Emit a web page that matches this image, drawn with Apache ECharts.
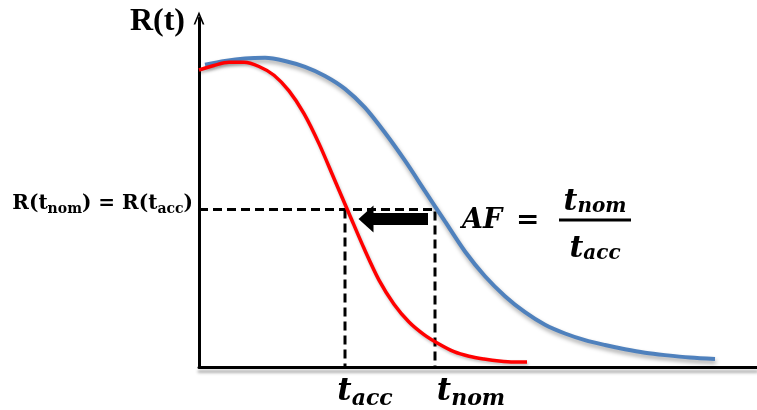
<!DOCTYPE html>
<html><head><meta charset="utf-8">
<script src="https://cdn.jsdelivr.net/npm/echarts@6/dist/echarts.min.js"></script>
<style>html,body{margin:0;padding:0;background:#fff}#c{width:757px;height:410px}</style>
</head><body><div id="c"></div>
<script>
// Nominal-stress reliability curve (blue)
const nominalT = [6, 26, 46, 66, 86, 106, 126, 146, 166, 186, 206, 226, 246, 266, 286, 306, 326, 346, 366, 386, 406, 426, 446, 466, 491, 516];
const nominalR = [0.866, 0.877, 0.884, 0.886, 0.877, 0.860, 0.834, 0.797, 0.743, 0.671, 0.591, 0.504, 0.417, 0.331, 0.260, 0.203, 0.157, 0.121, 0.096, 0.077, 0.063, 0.051, 0.041, 0.034, 0.027, 0.023];
// Accelerated-stress reliability curve (red)
const accelT = [0, 15, 30, 45, 60, 75, 90, 105, 120, 135, 150, 165, 180, 195, 210, 225, 240, 255, 270, 285, 300, 315, 328];
const accelR = [0.851, 0.864, 0.873, 0.873, 0.861, 0.836, 0.791, 0.726, 0.640, 0.540, 0.440, 0.340, 0.249, 0.180, 0.129, 0.093, 0.066, 0.044, 0.031, 0.023, 0.017, 0.014, 0.014];
// Equal-reliability level and the two times
const levelR = 0.451;
const tAcc = 146;
const tNom = 236;
// Arrow from t_nom towards t_acc
const arrowFromT = 229;
const arrowToT = 167;
const arrowR = 0.424;
const xMax = 558;
const yMax = 1;

const SERIF = '"DejaVu Serif", serif';
const zip = (a, b) => a.map((v, i) => [v, b[i]]);

const axisRich = {
  pa: { width: 40, fontSize: 10 },
  pn: { width: 72, fontSize: 10 },
  t: { fontFamily: SERIF, fontWeight: 'bold', fontStyle: 'italic', fontSize: 31, lineHeight: 31, verticalAlign: 'top', color: '#000' },
  s: { fontFamily: SERIF, fontWeight: 'bold', fontStyle: 'italic', fontSize: 22, lineHeight: 22, verticalAlign: 'top', padding: [12, 0, 0, 0], color: '#000' }
};
const fracRich = {
  t: { fontFamily: SERIF, fontWeight: 'bold', fontStyle: 'italic', fontSize: 30, lineHeight: 30, verticalAlign: 'top', color: '#000' },
  s: { fontFamily: SERIF, fontWeight: 'bold', fontStyle: 'italic', fontSize: 20, lineHeight: 20, verticalAlign: 'top', padding: [10, 0, 0, 0], color: '#000' }
};

const chart = echarts.init(document.getElementById('c'), null, { renderer: 'canvas' });
chart.setOption({
  animation: false,
  backgroundColor: '#fff',
  grid: { left: 199, right: 0, top: 18, bottom: 42, containLabel: false },
  xAxis: {
    type: 'value', min: 0, max: xMax,
    splitLine: { show: false }, axisTick: { show: false },
    axisLine: { show: true, onZero: false, lineStyle: { color: '#000', width: 3, shadowColor: 'rgba(0,0,0,0.3)', shadowBlur: 3, shadowOffsetY: 4 } },
    axisLabel: {
      customValues: [tAcc, tNom], margin: 9, align: 'center',
      formatter: v => v === tAcc ? '{pa| }{t|t}{s|acc}' : '{pn| }{t|t}{s|nom}',
      rich: axisRich
    }
  },
  yAxis: {
    type: 'value', min: 0, max: yMax,
    splitLine: { show: false }, axisTick: { show: false },
    axisLine: { show: true, onZero: false, symbol: ['none', 'path://M0,12 L5,0 L10,12 L8.4,12 L5,3.6 L1.6,12 Z'], symbolSize: [11, 13], lineStyle: { color: '#000', width: 3 } },
    axisLabel: {
      customValues: [levelR], margin: 6, padding: [0, 0, 12, 0],
      formatter: () => '{b|R(t}{s|nom}{b|) = R(t}{s|acc}{b|)}',
      rich: {
        b: { fontFamily: SERIF, fontWeight: 'bold', fontSize: 20, lineHeight: 20, verticalAlign: 'top', color: '#000' },
        s: { fontFamily: SERIF, fontWeight: 'bold', fontSize: 14, lineHeight: 14, verticalAlign: 'top', padding: [9, 0, 0, 0], color: '#000' }
      }
    }
  },
  series: [
    {
      type: 'line', data: [[0, levelR], [tNom, levelR], [tNom, 0]], symbol: 'none', z: 1,
      lineStyle: { color: '#000', width: 3, type: [9, 5] }
    },
    {
      type: 'line', data: [[tAcc, levelR], [tAcc, 0]], symbol: 'none', z: 1,
      lineStyle: { color: '#000', width: 3, type: [9, 5] }
    },
    {
      type: 'line', data: zip(nominalT, nominalR), smooth: 0.3, symbol: 'none', z: 3,
      lineStyle: { color: '#4F81BD', width: 4, shadowColor: 'rgba(0,0,0,0.35)', shadowBlur: 4, shadowOffsetX: 1, shadowOffsetY: 3 }
    },
    {
      type: 'line', data: zip(accelT, accelR), smooth: 0.3, symbol: 'none', z: 4,
      lineStyle: { color: '#FF0000', width: 3.5, shadowColor: 'rgba(0,0,0,0.25)', shadowBlur: 3, shadowOffsetX: 1, shadowOffsetY: 2 },
      markLine: {
        silent: true, symbol: ['none', 'triangle'], symbolSize: [27, 15], label: { show: false },
        lineStyle: { color: '#000', width: 12, type: 'solid' },
        data: [[{ coord: [arrowFromT, arrowR] }, { coord: [arrowToT, arrowR] }]]
      }
    }
  ],
  graphic: [
    { type: 'text', x: 185, y: 22, style: { text: 'R(t)', font: 'bold 32px "Liberation Serif", serif', fill: '#000', align: 'right', verticalAlign: 'middle' } },
    { type: 'text', x: 462, y: 221, style: { text: 'AF', font: 'italic bold 27px ' + SERIF, fill: '#000', align: 'left', verticalAlign: 'middle' } },
    { type: 'text', x: 516, y: 221, style: { text: '=', font: 'bold 28px ' + SERIF, fill: '#000', align: 'left', verticalAlign: 'middle' } },
    { type: 'text', x: 595, y: 187, style: { text: '{t|t}{s|nom}', rich: fracRich, fill: '#000', align: 'center', verticalAlign: 'top' } },
    { type: 'line', shape: { x1: 559, y1: 220, x2: 631, y2: 220 }, style: { stroke: '#000', lineWidth: 3 } },
    { type: 'text', x: 595, y: 234, style: { text: '{t|t}{s|acc}', rich: fracRich, fill: '#000', align: 'center', verticalAlign: 'top' } }
  ]
});
</script>
</body></html>
